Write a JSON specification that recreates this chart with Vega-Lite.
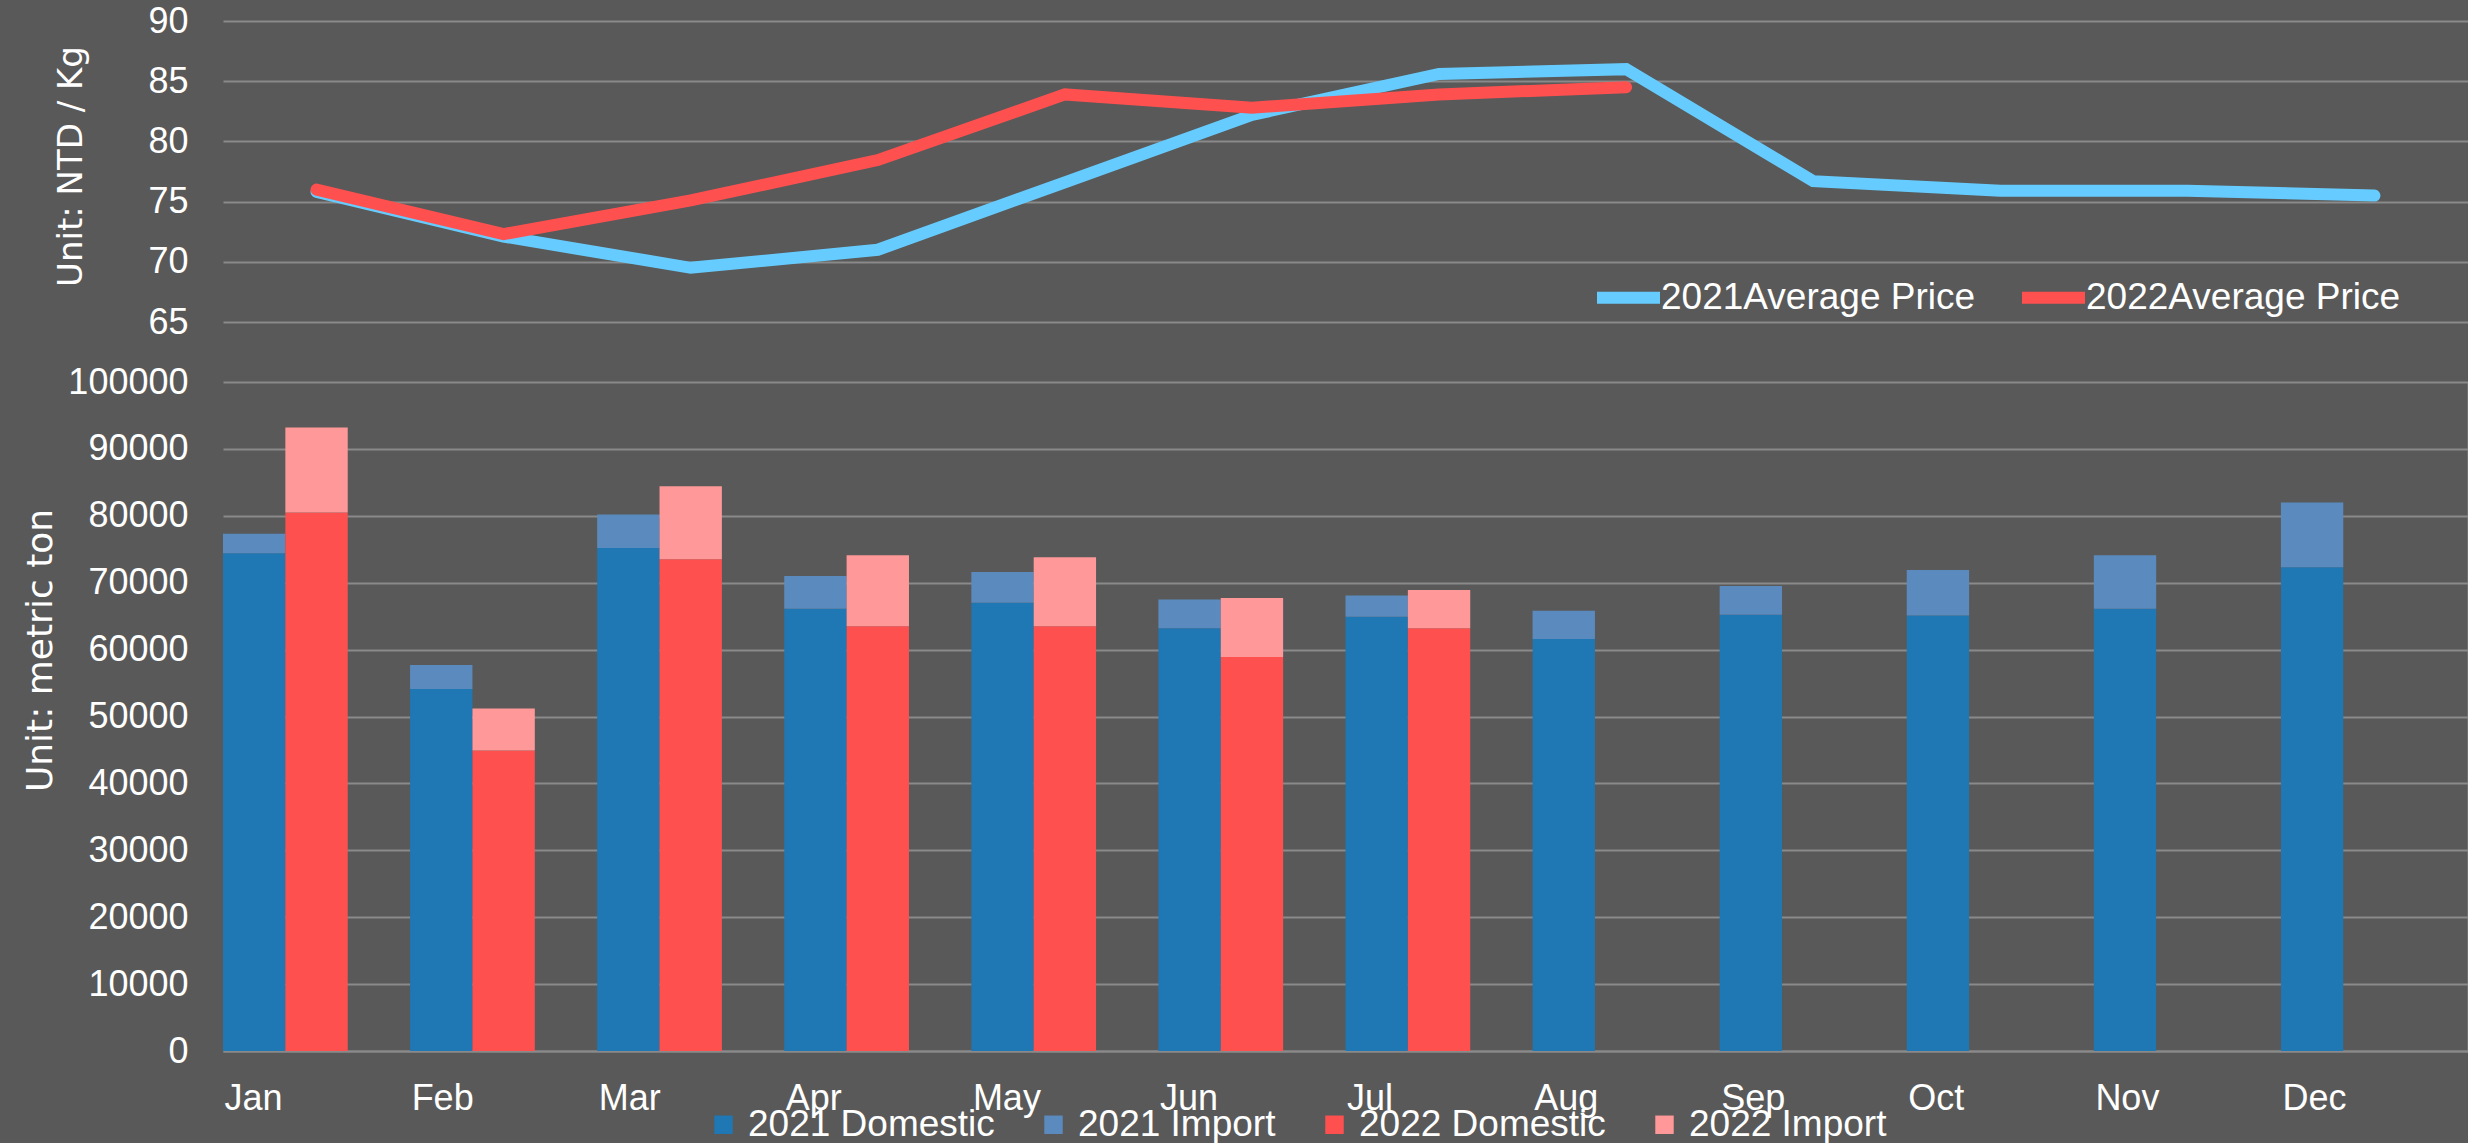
{
  "$schema": "https://vega.github.io/schema/vega-lite/v6.json",
  "background": "#595959",
  "padding": {"left": 22, "top": 3, "right": 0, "bottom": 0},
  "spacing": 24,
  "resolve": {"scale": {"color": "independent"}, "legend": {"color": "independent"}},
  "config": {
    "view": {"stroke": null},
    "font": "Liberation Sans",
    "axis": {
      "labelFont": "Liberation Sans",
      "labelFontSize": 36,
      "labelColor": "#ffffff",
      "gridColor": "#8a8a8a",
      "gridWidth": 2,
      "ticks": false,
      "domain": false,
      "titleColor": "#ffffff",
      "titleFontWeight": "normal"
    },
    "legend": {
      "labelFont": "Liberation Sans",
      "labelColor": "#ffffff",
      "labelFontSize": 37,
      "labelLimit": 1000,
      "padding": 0
    }
  },
  "datasets": {
    "price": [
      {"month": "Jan", "series": "2021Average Price", "price": 75.8},
      {"month": "Feb", "series": "2021Average Price", "price": 72.1},
      {"month": "Mar", "series": "2021Average Price", "price": 69.5},
      {"month": "Apr", "series": "2021Average Price", "price": 71.0},
      {"month": "May", "series": "2021Average Price", "price": 76.6},
      {"month": "Jun", "series": "2021Average Price", "price": 82.2},
      {"month": "Jul", "series": "2021Average Price", "price": 85.6},
      {"month": "Aug", "series": "2021Average Price", "price": 86.0},
      {"month": "Sep", "series": "2021Average Price", "price": 76.7},
      {"month": "Oct", "series": "2021Average Price", "price": 75.9},
      {"month": "Nov", "series": "2021Average Price", "price": 75.9},
      {"month": "Dec", "series": "2021Average Price", "price": 75.5},
      {"month": "Jan", "series": "2022Average Price", "price": 76.0},
      {"month": "Feb", "series": "2022Average Price", "price": 72.3},
      {"month": "Mar", "series": "2022Average Price", "price": 75.1},
      {"month": "Apr", "series": "2022Average Price", "price": 78.45},
      {"month": "May", "series": "2022Average Price", "price": 83.9},
      {"month": "Jun", "series": "2022Average Price", "price": 82.8},
      {"month": "Jul", "series": "2022Average Price", "price": 83.9},
      {"month": "Aug", "series": "2022Average Price", "price": 84.5}
    ],
    "vol": [
      {"month": "Jan", "year": "2021", "kind": "Domestic", "series": "2021 Domestic", "value": 74400},
      {"month": "Feb", "year": "2021", "kind": "Domestic", "series": "2021 Domestic", "value": 54100},
      {"month": "Mar", "year": "2021", "kind": "Domestic", "series": "2021 Domestic", "value": 75200},
      {"month": "Apr", "year": "2021", "kind": "Domestic", "series": "2021 Domestic", "value": 66100},
      {"month": "May", "year": "2021", "kind": "Domestic", "series": "2021 Domestic", "value": 67000},
      {"month": "Jun", "year": "2021", "kind": "Domestic", "series": "2021 Domestic", "value": 63200},
      {"month": "Jul", "year": "2021", "kind": "Domestic", "series": "2021 Domestic", "value": 64900},
      {"month": "Aug", "year": "2021", "kind": "Domestic", "series": "2021 Domestic", "value": 61600},
      {"month": "Sep", "year": "2021", "kind": "Domestic", "series": "2021 Domestic", "value": 65200},
      {"month": "Oct", "year": "2021", "kind": "Domestic", "series": "2021 Domestic", "value": 65100},
      {"month": "Nov", "year": "2021", "kind": "Domestic", "series": "2021 Domestic", "value": 66100},
      {"month": "Dec", "year": "2021", "kind": "Domestic", "series": "2021 Domestic", "value": 72300},
      {"month": "Jan", "year": "2021", "kind": "Import", "series": "2021 Import", "value": 2900},
      {"month": "Feb", "year": "2021", "kind": "Import", "series": "2021 Import", "value": 3600},
      {"month": "Mar", "year": "2021", "kind": "Import", "series": "2021 Import", "value": 5000},
      {"month": "Apr", "year": "2021", "kind": "Import", "series": "2021 Import", "value": 4900},
      {"month": "May", "year": "2021", "kind": "Import", "series": "2021 Import", "value": 4600},
      {"month": "Jun", "year": "2021", "kind": "Import", "series": "2021 Import", "value": 4300},
      {"month": "Jul", "year": "2021", "kind": "Import", "series": "2021 Import", "value": 3200},
      {"month": "Aug", "year": "2021", "kind": "Import", "series": "2021 Import", "value": 4200},
      {"month": "Sep", "year": "2021", "kind": "Import", "series": "2021 Import", "value": 4300},
      {"month": "Oct", "year": "2021", "kind": "Import", "series": "2021 Import", "value": 6800},
      {"month": "Nov", "year": "2021", "kind": "Import", "series": "2021 Import", "value": 8000},
      {"month": "Dec", "year": "2021", "kind": "Import", "series": "2021 Import", "value": 9700},
      {"month": "Jan", "year": "2022", "kind": "Domestic", "series": "2022 Domestic", "value": 80500},
      {"month": "Feb", "year": "2022", "kind": "Domestic", "series": "2022 Domestic", "value": 44900},
      {"month": "Mar", "year": "2022", "kind": "Domestic", "series": "2022 Domestic", "value": 73500},
      {"month": "Apr", "year": "2022", "kind": "Domestic", "series": "2022 Domestic", "value": 63500},
      {"month": "May", "year": "2022", "kind": "Domestic", "series": "2022 Domestic", "value": 63500},
      {"month": "Jun", "year": "2022", "kind": "Domestic", "series": "2022 Domestic", "value": 58900},
      {"month": "Jul", "year": "2022", "kind": "Domestic", "series": "2022 Domestic", "value": 63200},
      {"month": "Jan", "year": "2022", "kind": "Import", "series": "2022 Import", "value": 12700},
      {"month": "Feb", "year": "2022", "kind": "Import", "series": "2022 Import", "value": 6300},
      {"month": "Mar", "year": "2022", "kind": "Import", "series": "2022 Import", "value": 10900},
      {"month": "Apr", "year": "2022", "kind": "Import", "series": "2022 Import", "value": 10600},
      {"month": "May", "year": "2022", "kind": "Import", "series": "2022 Import", "value": 10300},
      {"month": "Jun", "year": "2022", "kind": "Import", "series": "2022 Import", "value": 8800},
      {"month": "Jul", "year": "2022", "kind": "Import", "series": "2022 Import", "value": 5700}
    ]
  },
  "vconcat": [
    {
      "width": 2245,
      "height": 301,
      "data": {"name": "price"},
      "mark": {"type": "line", "strokeWidth": 12, "strokeCap": "round"},
      "encoding": {
        "x": {
          "field": "month", "type": "ordinal",
          "sort": ["Jan","Feb","Mar","Apr","May","Jun","Jul","Aug","Sep","Oct","Nov","Dec"],
          "scale": {"type": "point", "padding": 0.5},
          "axis": null
        },
        "y": {
          "field": "price", "type": "quantitative",
          "scale": {"domain": [65, 90], "zero": false, "nice": false},
          "axis": {
            "values": [65, 70, 75, 80, 85, 90],
            "labelPadding": 35,
            "title": "Unit: NTD / Kg",
            "titleFont": "DejaVu Sans",
            "titleFontSize": 34,
            "titleX": -142,
            "titleY": 145,
            "titleAngle": 270,
            "titleAlign": "center",
            "titleBaseline": "alphabetic"
          }
        },
        "color": {
          "field": "series", "type": "nominal",
          "scale": {"domain": ["2021Average Price", "2022Average Price"], "range": ["#66CCFF", "#FF5050"]},
          "legend": {
            "title": null,
            "orient": "none",
            "legendX": 1368,
            "legendY": 239,
            "direction": "horizontal",
            "symbolType": "stroke",
            "symbolSize": 3969,
            "symbolStrokeWidth": 12,
            "labelOffset": -5,
            "columnPadding": 22
          }
        }
      }
    },
    {
      "width": 2245,
      "height": 669,
      "data": {"name": "vol"},
      "layer": [
        {
          "mark": {"type": "bar"},
          "encoding": {
            "x": {
              "field": "month", "type": "ordinal",
              "sort": ["Jan","Feb","Mar","Apr","May","Jun","Jul","Aug","Sep","Oct","Nov","Dec"],
              "scale": {"type": "band", "paddingInner": 0, "paddingOuter": 0},
              "axis": {
                "title": null,
                "labelAlign": "left",
                "labelAngle": 0,
                "labelOffset": -92,
                "labelPadding": 30,
                "labelBaseline": "top",
                "domain": true,
                "domainColor": "#8a8a8a",
                "domainWidth": 2,
                "grid": false
              }
            },
            "xOffset": {
              "field": "year", "type": "nominal",
              "scale": {"domain": ["2021", "2022", "gap"], "paddingInner": 0, "paddingOuter": 0}
            },
            "y": {
              "field": "value", "type": "quantitative", "stack": "zero",
              "scale": {"domain": [0, 100000], "nice": false},
              "axis": {
                "values": [0,10000,20000,30000,40000,50000,60000,70000,80000,90000,100000],
                "format": "d",
                "labelPadding": 35,
                "title": "Unit: metric ton",
                "titleFont": "DejaVu Sans",
                "titleFontSize": 36,
                "titleX": -172,
                "titleY": 268,
                "titleAngle": 270,
                "titleAlign": "center",
                "titleBaseline": "alphabetic"
              }
            },
            "color": {
              "field": "series", "type": "nominal",
              "scale": {
                "domain": ["2021 Domestic", "2021 Import", "2022 Domestic", "2022 Import"],
                "range": ["#1F77B4", "#5B8BBE", "#FF5050", "#FF9999"]
              },
              "legend": {
                "title": null,
                "orient": "none",
                "legendX": 482,
                "legendY": 724,
                "direction": "horizontal",
                "symbolType": "square",
                "symbolSize": 340,
                "symbolStrokeWidth": 0,
                "labelFontSize": 37,
                "labelOffset": 6,
                "columnPadding": 40
              }
            },
            "order": {"field": "kind", "sort": "ascending"}
          }
        },
        {
          "mark": {"type": "point", "opacity": 0},
          "encoding": {
            "y": {
              "field": "value", "type": "quantitative",
              "scale": {"domain": [0, 100000], "nice": false},
              "axis": {
                "orient": "right",
                "labels": false,
                "ticks": false,
                "grid": false,
                "domain": true,
                "domainColor": "#8a8a8a",
                "domainWidth": 2,
                "title": null
              }
            }
          }
        }
      ],
      "resolve": {"axis": {"y": "independent"}}
    }
  ]
}
